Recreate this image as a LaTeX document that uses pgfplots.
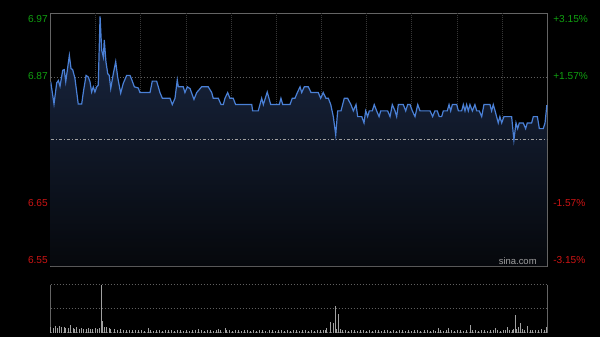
\documentclass[border=0pt]{standalone}
\usepackage{pgfplots}
\pgfplotsset{compat=1.18}
\usepackage{pgfplotstable}
\usepackage{fontspec}
\setmainfont{Liberation Sans}
\definecolor{upgreen}{RGB}{16,160,16}
\definecolor{dnred}{RGB}{205,20,20}
\definecolor{pline}{RGB}{74,128,214}
\definecolor{filltop}{RGB}{26,40,68}
\definecolor{fillbot}{RGB}{6,8,12}
\definecolor{frame}{RGB}{100,100,100}
\definecolor{vgrid}{RGB}{55,55,55}
\definecolor{hgrid}{RGB}{95,95,95}
\definecolor{volbar}{RGB}{160,160,160}

\pgfplotstableread{
t p
0 6.862
2.2 6.823
4.0 6.860
5.1 6.864
6.2 6.854
8.0 6.882
9.0 6.883
10.0 6.862
12.4 6.908
13.5 6.885
14.6 6.883
16.1 6.868
18.3 6.823
20.6 6.823
21.7 6.844
23.5 6.873
25.0 6.870
26.1 6.862
27.2 6.844
28.3 6.853
29.4 6.844
30.6 6.853
31.6 6.856
32.8 6.976
33.9 6.917
35.0 6.905
35.6 6.935
36.7 6.897
37.9 6.876
38.9 6.873
39.9 6.850
41.6 6.876
43.2 6.897
44.5 6.870
46.5 6.842
48.2 6.859
50.5 6.873
52.7 6.873
53.8 6.866
55.6 6.853
58.2 6.851
59.3 6.843
66.0 6.843
67.5 6.863
70.4 6.863
72.6 6.843
74.2 6.833
79.3 6.833
80.8 6.822
82.6 6.833
84.1 6.865
84.8 6.853
88.1 6.853
89.2 6.843
90.8 6.853
92.6 6.850
95.2 6.831
97.0 6.843
100.3 6.853
104.7 6.853
107.0 6.843
108.0 6.833
111.4 6.833
113.2 6.822
114.7 6.822
115.8 6.833
117.6 6.843
119.1 6.833
121.3 6.833
122.9 6.822
133.6 6.822
134.2 6.811
137.9 6.811
140.2 6.833
141.3 6.822
143.9 6.844
146.2 6.822
151.9 6.822
153.0 6.833
154.2 6.822
159.0 6.822
160.5 6.833
162.3 6.833
163.9 6.843
165.7 6.853
166.8 6.843
168.5 6.853
171.2 6.853
173.0 6.843
177.8 6.843
179.4 6.833
181.1 6.843
182.9 6.833
184.5 6.833
186.1 6.822
187.8 6.801
189.4 6.769
190.7 6.811
192.9 6.811
195.1 6.833
197.3 6.833
199.5 6.822
201.1 6.811
202.9 6.822
204.0 6.801
206.7 6.801
208.2 6.790
209.3 6.811
210.6 6.801
211.7 6.811
213.7 6.811
215.0 6.822
216.6 6.811
218.2 6.801
219.3 6.811
223.9 6.811
225.5 6.801
227.0 6.822
228.8 6.811
229.9 6.801
231.0 6.822
234.3 6.822
235.9 6.811
237.2 6.822
238.8 6.822
240.3 6.811
242.1 6.801
243.9 6.822
245.4 6.811
252.1 6.811
253.8 6.801
255.3 6.811
256.9 6.811
258.2 6.801
259.8 6.801
260.9 6.811
263.5 6.811
264.7 6.822
265.8 6.811
266.9 6.822
269.8 6.822
270.9 6.811
273.1 6.811
274.2 6.822
275.3 6.811
276.4 6.822
277.5 6.811
278.6 6.822
280.2 6.811
281.9 6.822
283.1 6.811
284.8 6.811
286.4 6.801
287.9 6.822
291.9 6.822
293.0 6.811
294.1 6.822
295.2 6.812
296.3 6.801
297.4 6.790
298.5 6.801
299.7 6.790
301.2 6.801
306.3 6.801
307.8 6.760
309.2 6.790
310.3 6.780
311.4 6.790
314.0 6.790
315.6 6.780
316.7 6.790
319.6 6.790
320.7 6.801
323.4 6.801
324.7 6.780
327.3 6.780
328.5 6.790
329.7 6.821
}\pricedata

\pgfplotstableread{
t v
0 12
1.5 9
3 14
4.5 10
6 13
7.3 12
8.8 11
10 9
11.5 10
13.3 17
15 10
16 8
17.3 11
19 8
20.5 9
22 7
23.5 8
25 9
26.5 7
28 8
29.4 10
31 8
32.3 9
33.5 100
34.2 25
35.6 12
37.2 12
38.7 9
40 8
42 7
44 6
46 7
48 5
50 6
52 5
54 6
56 5
58 6
60 5
62 4
64.9 9
66 5
68 4
70 5
72 6
74 4
76 5
78 6
80 5
82 4
84 5
86 6
88 4
90 5
92 4
94 5
96 6
98 8
100 5
102 4
104 5
106 6
108 4
110 5
111.4 8
113 5
115.8 9
117 6
119 5
121 4
123 5
125 6
127 4
129 5
131 6
133 4
135 5
137 4
139 6
141 5
143 4
145 5
147 6
149 4
151 5
153 6
155 4
157 5
159 4
161 6
163 5
165 4
167 5
169 6
171 4
173 5
175 4
177 5
179 6
181 5
182.5 6
183.4 9
185.6 23
187.8 21
188.9 56
190 8
191.1 39
192.5 7
194 6
196 5
198 4
200 6
202 5
204 4
206 5
208 6
210 4
212 5
214 4
216 6
218 5
220 4
222 5
224 6
226 4
228 5
230 4
232 5
234 6
236 4
238 5
240 4
242 6
244 5
246 4
248 5
250 6
252 4
254 5
255.8 4
257.4 10
259 5
261 4
263 5
264.2 9
266 5
268 4
270 6
272 5
274 4
276 5
278.6 16
280 6
282 5
284 4
286 5
288 6
290 4
292 5
294 6
295.5 10
297 5
299 4
301 6
302.3 5
303.4 12
305 6
306.5 5
307.5 7
308.5 37
309.6 8
310.7 12
312.3 21
313.5 7
315 6
317.1 14
318.5 6
320 5
322 6
324 5
326 7
327.8 6
329.4 12
}\voldata

\begin{document}
\begin{tikzpicture}
\fill[black] (0,0) rectangle (450pt,252.75pt);
\path[use as bounding box] (0,0) rectangle (450pt,252.75pt);

% ---------------- price panel ----------------
\begin{axis}[
  at={(38.025pt,53.25pt)}, anchor=south west,
  width=372.45pt, height=189.75pt, scale only axis,
  xmin=0, xmax=330, ymin=6.540, ymax=6.982,
  axis line style={draw=frame, line width=0.75pt},
  xtick=\empty, ytick=\empty,
]
\pgfplotsinvokeforeach{30,60,90,120,150,180,210,240,270,300}{
  \draw[vgrid, line width=0.75pt, dash pattern=on 0.75pt off 0.75pt] (axis cs:#1,6.540) -- (axis cs:#1,6.982);
}
\draw[hgrid, line width=0.75pt, dash pattern=on 0.75pt off 1.5pt] (axis cs:0,6.87) -- (axis cs:330,6.87);
\draw[hgrid, line width=0.75pt, dash pattern=on 0.75pt off 1.5pt] (axis cs:0,6.65) -- (axis cs:330,6.65);
\addplot[top color=filltop, bottom color=fillbot, draw=none, forget plot] table[x=t,y=p] {\pricedata} -- (axis cs:329.7,6.540) -- (axis cs:0,6.540) -- cycle;
\draw[gray!75, line width=0.75pt, dash pattern=on 2.25pt off 1.5pt on 0.75pt off 1.5pt] (axis cs:0,6.761) -- (axis cs:330,6.761);
\addplot[pline, line width=0.9pt, mark=none] table[x=t,y=p] {\pricedata};
\end{axis}

% axis labels
\begin{scope}[font=\fontsize{7.6}{9}\selectfont, x=0.75pt, y=0.75pt]
\node[anchor=east, text=upgreen, inner sep=0] at (48,337-19) {6.97};
\node[anchor=east, text=upgreen, inner sep=0] at (48,337-76.5) {6.87};
\node[anchor=east, text=dnred, inner sep=0] at (48,337-203) {6.65};
\node[anchor=east, text=dnred, inner sep=0] at (48,337-260) {6.55};
\node[anchor=west, text=upgreen, inner sep=0] at (553,337-19) {+3.15\%};
\node[anchor=west, text=upgreen, inner sep=0] at (553,337-76.5) {+1.57\%};
\node[anchor=west, text=dnred, inner sep=0] at (553,337-203) {-1.57\%};
\node[anchor=west, text=dnred, inner sep=0] at (553,337-260) {-3.15\%};
\node[anchor=west, text=gray!75, inner sep=0, font=\fontsize{7.1}{8}\selectfont] at (498.5,337-261.5) {sina.com};
\end{scope}

% ---------------- volume panel ----------------
\begin{axis}[
  at={(38.025pt,3.225pt)}, anchor=south west,
  width=372.45pt, height=35.8pt, scale only axis,
  xmin=0, xmax=330, ymin=0, ymax=100,
  axis line style={draw=none},
  xtick=\empty, ytick=\empty,
  clip=false,
]
\draw[hgrid, line width=0.75pt, dash pattern=on 0.75pt off 1.5pt] (axis cs:0,100) -- (axis cs:330,100);
\draw[hgrid, line width=0.75pt, dash pattern=on 0.75pt off 1.5pt] (axis cs:0,50) -- (axis cs:330,50);
\draw[hgrid, line width=0.75pt, dash pattern=on 0.75pt off 0.75pt] (axis cs:0,0) -- (axis cs:330,0);
\draw[frame, line width=0.75pt] (axis cs:0,0) -- (axis cs:0,100);
\draw[frame, line width=0.75pt] (axis cs:330,0) -- (axis cs:330,100);
\addplot[ycomb, volbar, line width=0.6pt, mark=none] table[x=t,y=v] {\voldata};
\end{axis}
\end{tikzpicture}
\end{document}
